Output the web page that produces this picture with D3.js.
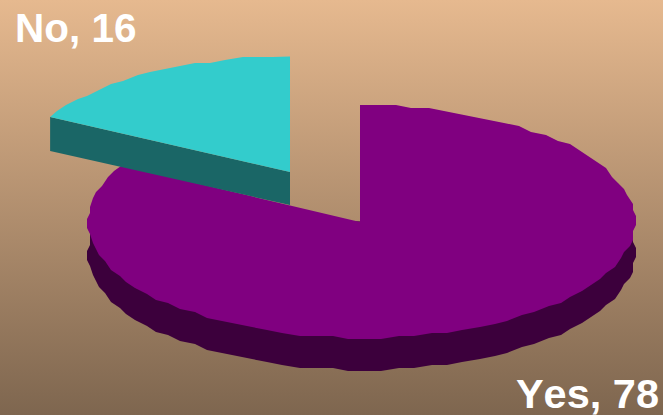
<!DOCTYPE html>
<html>
<head>
<meta charset="utf-8">
<script src="https://cdnjs.cloudflare.com/ajax/libs/d3/7.8.5/d3.min.js"></script>
<style>
html,body{margin:0;padding:0;background:#fff;}
svg{display:block;}
text{font-family:"Liberation Sans",Arial,sans-serif;font-weight:700;fill:#fff;font-kerning:none;}
</style>
</head>
<body>
<svg id="chart" width="663" height="415"></svg>
<script>
const categories = ["Yes", "No"];
const seriesValues = [78, 16];
const topColors = ["#800080", "#33CCCC"];
const wallColors = ["#3C003C", "#1A6666"];
const backgroundStops = ["#E6B98F", "#7E664F"];

const width = 663, height = 415;
const svg = d3.select("#chart");

const defs = svg.append("defs");
const grad = defs.append("linearGradient").attr("id", "bg")
  .attr("x1", 0).attr("y1", 0).attr("x2", 0).attr("y2", 1);
grad.append("stop").attr("offset", 0).attr("stop-color", backgroundStops[0]);
grad.append("stop").attr("offset", 1).attr("stop-color", backgroundStops[1]);
svg.append("rect").attr("width", width).attr("height", height).attr("fill", "url(#bg)");

// Tilted pie geometry: a flattened circle with a constant wall height.
const cx = 361.5, cy = 221.5, rx = 273.5, ry = 116.5, depth = 32;
const rimShift = [{dx: 0, dy: 0}, {dx: -71.5, dy: -48.5}];
const apexes = [[360, 222], [290, 172]];
const arcs = d3.pie().sort(null)(seriesValues);

const facet = 3.5;   // angular step of the rim, degrees
const snap = 3;      // rim points sit on a coarse grid
const exact = (a, o) => [cx + rx * Math.sin(a) + o.dx, cy - ry * Math.cos(a) + o.dy];
const rim = (a, o) => exact(a, o).map(v => Math.round(v / snap) * snap);
const angles = (a0, a1) => {
  const n = Math.max(1, Math.round((a1 - a0) / (facet * Math.PI / 180)));
  return d3.range(n + 1).map(i => a0 + (a1 - a0) * i / n);
};
const line = d3.line();

// Yes is drawn first so the exploded No slice overlaps it.
arcs.forEach((d, i) => {
  const o = rimShift[i];
  const g = svg.append("g").attr("class", "slice-" + categories[i]);
  const apex = apexes[i];
  const steps = angles(d.startAngle, d.endAngle);
  const pts = steps.map(a => rim(a, o));
  // the slice corners stay exact so the straight edges run true
  pts[0] = i === 0 ? [apex[0], exact(0, o)[1]] : exact(d.startAngle, o);
  pts[pts.length - 1] = i === 1 ? [apex[0], exact(0, o)[1]] : exact(d.endAngle, o);

  // outer wall: the rim points that face the viewer, dropped by the wall height
  const front = steps
    .map((a, k) => ({a, p: pts[k]}))
    .filter(s => s.a >= Math.PI / 2 - 0.1 && s.a <= 3 * Math.PI / 2 + 0.1)
    .map(s => s.p);
  if (front.length > 1) {
    const lower = front.map(p => [p[0], p[1] + depth]);
    g.append("path")
      .attr("d", line([[cx, cy], front[0], ...lower, front[front.length - 1]]) + "Z")
      .attr("fill", wallColors[i]);
  }

  // cut face along the leading edge of the exploded slice
  if (i === 1) {
    const left = pts[0];
    const cut = [apex, left, [left[0], left[1] + depth + 2], [apex[0], apex[1] + depth + 1]];
    g.append("path").attr("d", line(cut) + "Z").attr("fill", wallColors[i]);
  }

  g.append("path")
    .attr("d", line(pts.concat([apex])) + "Z")
    .attr("fill", topColors[i]);
});

svg.append("text").attr("x", 15).attr("y", 42).style("font-size", "40.5px")
  .text(`${categories[1]}, ${seriesValues[1]}`);
svg.append("text").attr("x", 659).attr("y", 408).attr("text-anchor", "end").style("font-size", "41.5px")
  .text(`${categories[0]}, ${seriesValues[0]}`);
</script>
</body>
</html>
